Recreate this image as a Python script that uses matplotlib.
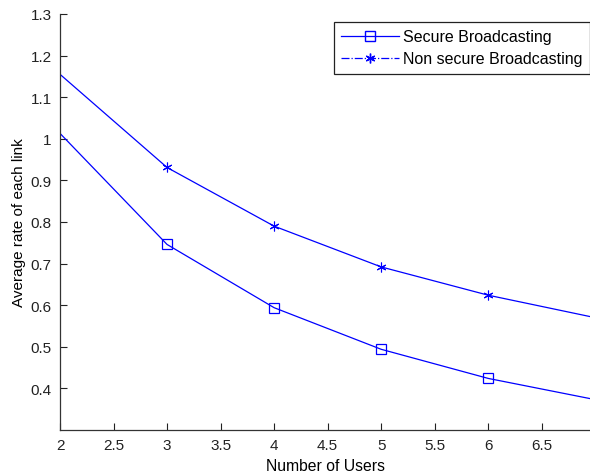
import matplotlib.pyplot as plt
from matplotlib.lines import Line2D
from matplotlib.ticker import FormatStrFormatter

plt.rcParams['font.family'] = ['Liberation Sans', 'DejaVu Sans']

users = [2, 3, 4, 5, 6, 7]
secure = [1.013, 0.746, 0.594, 0.494, 0.424, 0.373]
non_secure = [1.155, 0.931, 0.790, 0.692, 0.624, 0.570]
xticks = [2, 2.5, 3, 3.5, 4, 4.5, 5, 5.5, 6, 6.5]
yticks = [0.4, 0.5, 0.6, 0.7, 0.8, 0.9, 1.0, 1.1, 1.2, 1.3]

fig = plt.figure(figsize=(5.9, 4.77), dpi=100)
ax = fig.add_axes([0.1017, 0.0964, 0.8983, 0.8722])

blue = '#0000ff'
star = (6, 2, 0)
ax.plot(users, secure, color=blue, lw=0.9, marker='s', markevery=[1, 2, 3, 4],
        ms=7.5, mfc='none', mec=blue, mew=0.9)
ax.plot(users, non_secure, color=blue, lw=0.9, marker=star, markevery=[1, 2, 3, 4],
        ms=7, mec=blue, mew=0.8)

ax.set_xlim(2, 6.95)
ax.set_ylim(0.3, 1.3)
ax.set_xticks(xticks)
ax.set_yticks(yticks)
ax.yaxis.set_major_formatter(FormatStrFormatter('%g'))
ax.xaxis.set_major_formatter(FormatStrFormatter('%g'))
ax.tick_params(direction='in', length=5, width=0.8, labelsize=11, colors='#222222', pad=6)
for s in ['top', 'right']:
    ax.spines[s].set_visible(False)
for s in ['left', 'bottom']:
    ax.spines[s].set_color('#333333')
    ax.spines[s].set_linewidth(0.9)

ax.set_xlabel('Number of Users', fontsize=11.3, labelpad=4)
ax.set_ylabel('Average rate of each link', fontsize=11, labelpad=3)

handles = [
    Line2D([], [], color=blue, lw=0.9, marker='s', ms=7.5, mfc='none', mec=blue),
    Line2D([], [], color=blue, lw=0.9, ls='-.', marker=star, ms=7, mec=blue),
]
leg = fig.legend(handles, ['Secure Broadcasting', 'Non secure Broadcasting'],
                 loc='upper right', bbox_to_anchor=(1.0, 1 - 23 / 477),
                 fontsize=11.5, fancybox=False, framealpha=1, edgecolor='#222222',
                 handlelength=3.6, borderaxespad=0, borderpad=0.45, labelspacing=0.45,
                 handletextpad=0.3)
leg.get_frame().set_linewidth(0.9)

fig.savefig('out.png', dpi=100)
